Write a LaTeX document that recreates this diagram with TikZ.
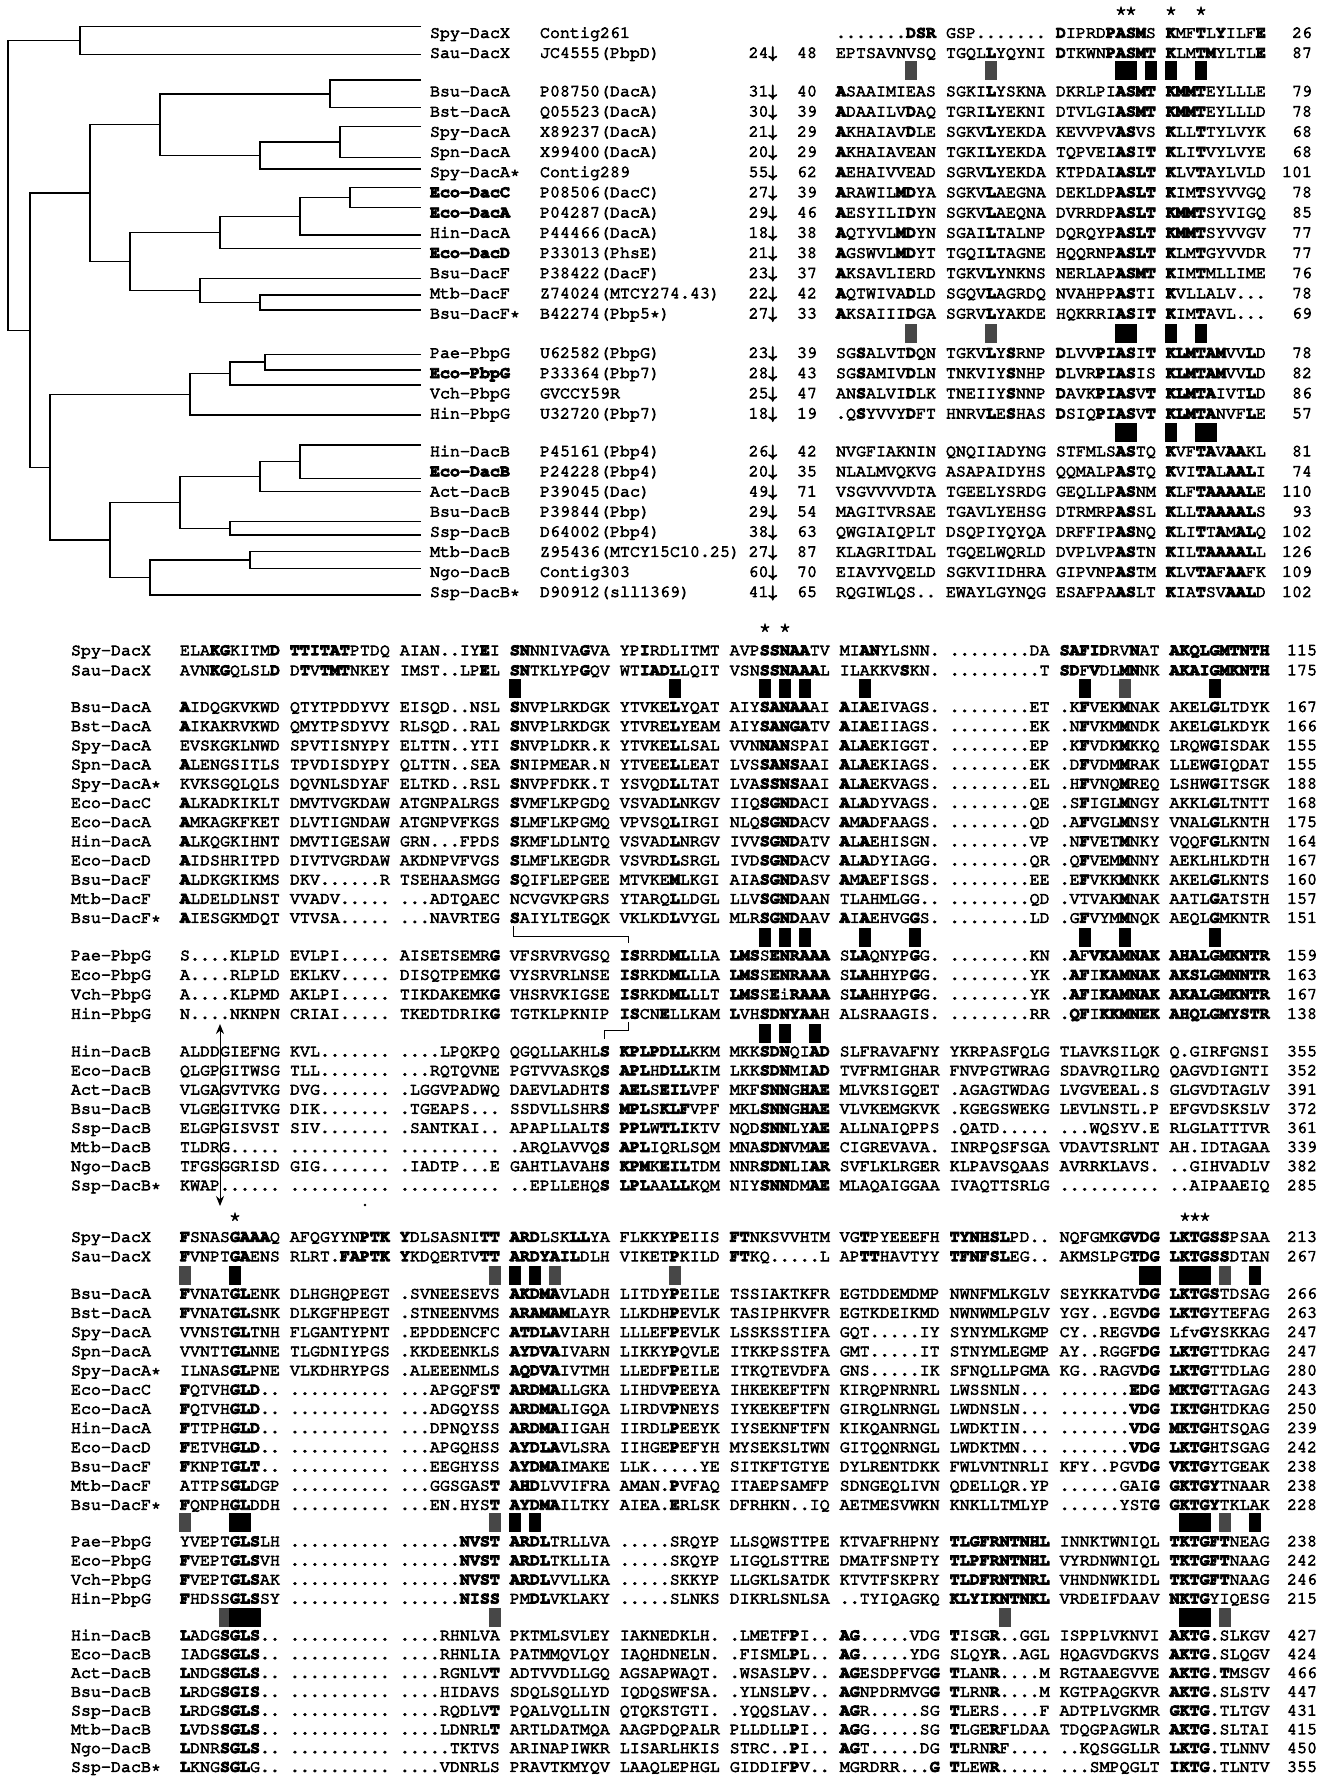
\documentclass[tikz,border=0pt]{standalone}
\usepackage[T1]{fontenc}
\usepackage{courier}
\usetikzlibrary{arrows.meta}
\newcommand\sq{\ttfamily\fontsize{8.33}{10}\selectfont\frenchspacing}
\newcommand\B[1]{\textbf{#1}}
\newcommand\trow[8]{%
 \node[anchor=base west] (tn#1) at (430,#2+4.5) {#3};
 \node[anchor=base west] (ta#1) at (540,#2+4.5) {#4};
 \node[anchor=base east] (tb#1) at (777,#2+4.5) {#5};
 \node[anchor=base west] (tc#1) at (797,#2+4.5) {#6};
 \node[anchor=base west] (ts#1) at (836,#2+4.5) {#7};
 \node[anchor=base east] (te#1) at (1312,#2+4.5) {#8};}
\newcommand\mrow[5]{%
 \node[anchor=base west] (mn#1) at (71,#2+4.5) {#3};
 \node[anchor=base west] (ms#1) at (180,#2+4.5) {#4};
 \node[anchor=base east] (me#1) at (1317,#2+4.5) {#5};}
\newcommand\sbar[5]{\fill[#5] (#1+#3*10-1,#2-9.5) rectangle (#1+#4*10+11,#2+9.5);}
\newcommand\cld[5]{\draw[tr] (#2,#4) -- (#1,#4) -- (#1,#5) -- (#3,#5);}
\begin{document}
\frenchspacing
\begin{tikzpicture}[x=0.5pt,y=-0.5pt,
  every node/.style={inner sep=0pt,outer sep=0pt,font=\sq},
  tr/.style={line width=0.7pt},
  stp/.style={fill=black!72},
  blk/.style={fill=black}]
\fill[white] (0,0) rectangle (1331,1776);
\useasboundingbox (0,0) rectangle (1331,1776);
\special{pdf:literal direct 2 Tr}

% ---------------- tree ----------------
\cld{80}{421}{421}{26.7}{54.3}
\cld{8}{80}{30}{40.5}{330.2}
\cld{30}{90}{50}{193.1}{467.2}
\cld{90}{160}{130}{124.8}{261.4}
\cld{160}{330}{260}{93.9}{155.6}
\cld{330}{421}{421}{80}{107.7}
\cld{260}{340}{421}{142.2}{169}
\cld{340}{421}{421}{126.7}{157.7}
\cld{130}{220}{200}{232.4}{290.4}
\cld{220}{300}{421}{216.4}{248.3}
\cld{300}{350}{421}{197.7}{235}
\cld{350}{421}{421}{187.7}{207.7}
\cld{200}{421}{260}{278.3}{302.5}
\cld{260}{421}{421}{295}{310}
\cld{50}{190}{110}{394.3}{540}
\cld{190}{230}{421}{373.6}{415}
\cld{230}{265}{421}{362}{385}
\cld{265}{421}{421}{354.3}{370}
\cld{110}{180}{150}{502.6}{577.5}
\cld{180}{260}{230}{476.7}{528.4}
\cld{260}{300}{421}{461.7}{491.7}
\cld{300}{421}{421}{445}{478.3}
\cld{230}{421}{421}{521.7}{535}
\cld{150}{250}{421}{560}{595}
\cld{250}{421}{421}{551.7}{568.3}

% ---------------- top block ----------------
\node (s1) at (1121,11) {$\star$};
\node (s2) at (1131,11) {$\star$};
\node (s3) at (1171,11) {$\star$};
\node (s4) at (1201,11) {$\star$};
\trow{1}{33.3}{Spy-DacX}{Contig261}{}{}{.......\B{DSR} GSP....... \B{D}IPRD\B{PASM}S \B{K}MF\B{T}L\B{Y}ILF\B{E}}{26}
\trow{2}{53.3}{Sau-DacX}{JC4555(PbpD)}{24$\downarrow$}{48}{EPTSAVNVSQ TGQL\B{L}YQYNI \B{D}TKWN\B{PASMT} \B{K}LM\B{TM}YLTL\B{E}}{87}
\trow{3}{91.7}{Bsu-DacA}{P08750(DacA)}{31$\downarrow$}{40}{\B{A}SAAIMIEAS SGKI\B{L}YSKNA DKRLPI\B{ASMT} \B{KMMT}EYLLLE}{79}
\trow{4}{111.9}{Bst-DacA}{Q05523(DacA)}{30$\downarrow$}{39}{\B{A}DAAILV\B{D}AQ TGRI\B{L}YEKNI DTVLGI\B{ASMT} \B{KMMT}EYLLLD}{78}
\trow{5}{132.1}{Spy-DacA}{X89237(DacA)}{21$\downarrow$}{29}{\B{A}KHAIAV\B{D}LE SGKV\B{L}YEKDA KEVVPV\B{AS}VS \B{K}LL\B{T}TYLVYK}{68}
\trow{6}{152.3}{Spn-DacA}{X99400(DacA)}{20$\downarrow$}{29}{\B{A}KHAIAVEAN TGKI\B{L}YEKDA TQPVEI\B{AS}I\B{T} \B{K}LI\B{T}VYLVYE}{68}
\trow{7}{172.5}{Spy-DacA*}{Contig289}{55$\downarrow$}{62}{\B{A}EHAIVVEAD SGRV\B{L}YEKDA KTPDAI\B{ASLT} \B{K}LV\B{T}AYLVLD}{101}
\trow{8}{192.7}{\B{Eco-DacC}}{P08506(DacC)}{27$\downarrow$}{39}{\B{A}RAWIL\B{MD}YA SGKV\B{L}AEGNA DEKLDP\B{ASLT} \B{K}IM\B{T}SYVVGQ}{78}
\trow{9}{212.9}{\B{Eco-DacA}}{P04287(DacA)}{29$\downarrow$}{46}{\B{A}ESYILI\B{D}YN SGKV\B{L}AEQNA DVRRDP\B{ASLT} \B{KMMT}SYVIGQ}{85}
\trow{10}{233.1}{Hin-DacA}{P44466(DacA)}{18$\downarrow$}{38}{\B{A}QTYVL\B{MD}YN SGAI\B{L}TALNP DQRQYP\B{ASLT} \B{KMMT}SYVVGV}{77}
\trow{11}{253.3}{\B{Eco-DacD}}{P33013(PhsE)}{21$\downarrow$}{38}{\B{A}GSWVL\B{MD}YT TGQI\B{L}TAGNE HQQRNP\B{ASLT} \B{K}LM\B{T}GYVVDR}{77}
\trow{12}{273.5}{Bsu-DacF}{P38422(DacF)}{23$\downarrow$}{37}{\B{A}KSAVLIERD TGKV\B{L}YNKNS NERLAP\B{ASMT} \B{K}IM\B{T}MLLIME}{76}
\trow{13}{293.7}{Mtb-DacF}{Z74024(MTCY274.43)}{22$\downarrow$}{42}{\B{A}QTWIVA\B{D}LD SGQV\B{L}AGRDQ NVAHPP\B{AS}TI \B{K}VLLALV...}{78}
\trow{14}{313.9}{Bsu-DacF*}{B42274(Pbp5*)}{27$\downarrow$}{33}{\B{A}KSAIII\B{D}GA SGRV\B{L}YAKDE HQKRRI\B{AS}I\B{T} \B{K}IM\B{T}AVL...}{69}
\trow{15}{353.3}{Pae-PbpG}{U62582(PbpG)}{23$\downarrow$}{39}{SG\B{S}ALVT\B{D}QN TGKV\B{L}Y\B{S}RNP \B{D}LVV\B{PIAS}I\B{T} \B{KLMTAM}VV\B{L}D}{78}
\trow{16}{373.5}{\B{Eco-PbpG}}{P33364(Pbp7)}{28$\downarrow$}{43}{SG\B{S}AMIV\B{D}LN TNKVIY\B{S}NHP \B{D}LVR\B{PIAS}IS \B{KLMTAM}VV\B{L}D}{82}
\trow{17}{393.7}{Vch-PbpG}{GVCCY59R}{25$\downarrow$}{47}{AN\B{S}ALVI\B{D}LK TNEIIY\B{S}NNP \B{D}AVK\B{PIAS}V\B{T} \B{KLMTA}IVT\B{L}D}{86}
\trow{18}{413.9}{Hin-PbpG}{U32720(Pbp7)}{18$\downarrow$}{19}{.Q\B{S}YVVY\B{D}FT HNRV\B{L}E\B{S}HAS \B{D}SIQ\B{PIAS}V\B{T} \B{KLMTA}NVF\B{L}E}{57}
\trow{19}{451.7}{Hin-DacB}{P45161(Pbp4)}{26$\downarrow$}{42}{NVGFIAKNIN QNQIIADYNG STFMLS\B{AS}TQ \B{K}VF\B{TA}V\B{AA}KL}{81}
\trow{20}{471.8}{\B{Eco-DacB}}{P24228(Pbp4)}{20$\downarrow$}{35}{NLALMVQKVG ASAPAIDYHS QQMALP\B{AS}TQ \B{K}VI\B{TA}L\B{AAL}I}{74}
\trow{21}{491.9}{Act-DacB}{P39045(Dac)}{49$\downarrow$}{71}{VSGVVVVDTA TGEELYSRDG GEQLLP\B{AS}NM \B{K}LF\B{TAAAAL}E}{110}
\trow{22}{512}{Bsu-DacB}{P39844(Pbp)}{29$\downarrow$}{54}{MAGITVRSAE TGAVLYEHSG DTRMRP\B{AS}SL \B{K}LL\B{TAAAAL}S}{93}
\trow{23}{532.1}{Ssp-DacB}{D64002(Pbp4)}{38$\downarrow$}{63}{QWGIAIQPLT DSQPIYQYQA DRFFIP\B{AS}NQ \B{K}LI\B{T}T\B{A}M\B{AL}Q}{102}
\trow{24}{552.2}{Mtb-DacB}{Z95436(MTCY15C10.25)}{27$\downarrow$}{87}{KLAGRITDAL TGQELWQRLD DVPLVP\B{AS}TN \B{K}IL\B{TAAAAL}L}{126}
\trow{25}{572.3}{Ngo-DacB}{Contig303}{60$\downarrow$}{70}{EIAVYVQELD SGKVIIDHRA GIPVNP\B{AS}TM \B{K}LV\B{TA}F\B{AA}FK}{109}
\trow{26}{592.4}{Ssp-DacB*}{D90912(sll1369)}{41$\downarrow$}{65}{RQGIWLQS.. EWAYLGYNQG ESAFPA\B{AS}LT \B{K}IA\B{T}SV\B{AAL}D}{102}
% top bars
\sbar{836}{71}{7}{7}{stp}\sbar{836}{71}{15}{15}{stp}\sbar{836}{71}{28}{29}{blk}
\sbar{836}{71}{31}{31}{blk}\sbar{836}{71}{33}{33}{blk}\sbar{836}{71}{36}{36}{blk}
\sbar{836}{333}{7}{7}{stp}\sbar{836}{333}{15}{15}{stp}\sbar{836}{333}{28}{29}{blk}
\sbar{836}{333}{33}{33}{blk}\sbar{836}{333}{36}{36}{blk}
\sbar{836}{432}{28}{29}{blk}\sbar{836}{432}{33}{33}{blk}\sbar{836}{432}{36}{37}{blk}

% ---------------- middle block ----------------
\node (s5) at (765,628) {$\star$};
\node (s6) at (785,628) {$\star$};
\mrow{m1}{650.7}{Spy-DacX}{ELA\B{KG}KITM\B{D} \B{TTITAT}PTDQ AIAN..IY\B{E}I \B{SN}NNIVA\B{G}VA YP\B{I}RDLITMT AVP\B{SSNAA}TV MI\B{AN}YLSNN. ........DA \B{SAFID}RV\B{N}AT \B{AKQLGMTNTH}}{115}
\mrow{m2}{670.7}{Sau-DacX}{AVN\B{KG}QLSL\B{D} D\B{T}V\B{TMT}NKEY IMST..LP\B{E}L \B{SN}TKLYP\B{G}QV WT\B{IADL}LQIT VSN\B{SSNAAA}L ILAKKV\B{S}KN. .........T \B{SD}F\B{V}DL\B{MN}NK \B{AKAIGMKNTH}}{175}
\mrow{m3}{707.3}{Bsu-DacA}{\B{A}IDQGKVKWD QTYTPDDYVY EISQD..NSL \B{S}NVPLRKDGK YTVKE\B{L}YQAT AIY\B{SANAA}AI \B{A}I\B{A}EIVAGS. ........ET .K\B{F}VEK\B{M}NAK AKEL\B{G}LTDYK}{167}
\mrow{m4}{726.5}{Bst-DacA}{\B{A}IKAKRVKWD QMYTPSDYVY RLSQD..RAL \B{S}NVPLRKDGK YTVRE\B{L}YEAM AIY\B{SANGA}TV \B{A}I\B{A}EIIAGS. ........EK .N\B{F}VKM\B{M}NDK AKEL\B{G}LKDYK}{166}
\mrow{m5}{745.7}{Spy-DacA}{EVSKGKLNWD SPVTISNYPY ELTTN..YTI \B{S}NVPLDKR.K YTVKE\B{L}LSAL VVN\B{NAN}SPAI \B{A}L\B{A}EKIGGT. ........EP .K\B{F}VDK\B{M}KKQ LRQW\B{G}ISDAK}{155}
\mrow{m6}{764.8}{Spn-DacA}{\B{A}LENGSITLS TPVDISDYPY QLTTN..SEA \B{S}NIPMEAR.N YTVEE\B{L}LEAT LVS\B{SANS}AAI \B{A}L\B{A}EKIAGS. ........EK .D\B{F}VDM\B{M}RAK LLEW\B{G}IQDAT}{155}
\mrow{m7}{784}{Spy-DacA*}{KVKSGQLQLS DQVNLSDYAF ELTKD..RSL \B{S}NVPFDKK.T YSVQD\B{L}LTAT LVA\B{SSNS}AAI \B{A}L\B{A}EKVAGS. ........EL .H\B{F}VNQ\B{M}REQ LSHW\B{G}ITSGK}{188}
\mrow{m8}{803.2}{Eco-DacC}{\B{A}LKADKIKLT DMVTVGKDAW ATGNPALRGS \B{S}VMFLKPGDQ VSVAD\B{L}NKGV IIQ\B{SGND}ACI \B{A}L\B{A}DYVAGS. ........QE .S\B{F}IGL\B{M}NGY AKKL\B{G}LTNTT}{168}
\mrow{m9}{822.4}{Eco-DacA}{\B{A}MKAGKFKET DLVTIGNDAW ATGNPVFKGS \B{S}LMFLKPGMQ VPVSQ\B{L}IRGI NLQ\B{SGND}ACV \B{A}M\B{A}DFAAGS. ........QD .A\B{F}VGL\B{M}NSY VNAL\B{G}LKNTH}{175}
\mrow{m10}{841.6}{Hin-DacA}{\B{A}LKQGKIHNT DMVTIGESAW GRN...FPDS \B{S}KMFLDLNTQ VSVAD\B{L}NRGV IVV\B{SGND}ATV \B{A}L\B{A}EHISGN. ........VP .N\B{F}VET\B{M}NKY VQQF\B{G}LKNTN}{164}
\mrow{m11}{860.7}{Eco-DacD}{\B{A}IDSHRITPD DIVTVGRDAW AKDNPVFVGS \B{S}LMFLKEGDR VSVRD\B{L}SRGL IVD\B{SGND}ACV \B{A}L\B{A}DYIAGG. ........QR .Q\B{F}VEM\B{M}NNY AEKLHLKDTH}{167}
\mrow{m12}{879.9}{Bsu-DacF}{\B{A}LDKGKIKMS DKV......R TSEHAASMGG \B{S}QIFLEPGEE MTVKE\B{M}LKGI AIA\B{SGND}ASV \B{A}M\B{A}EFISGS. ........EE .E\B{F}VKK\B{M}NKK AKEL\B{G}LKNTS}{160}
\mrow{m13}{899.1}{Mtb-DacF}{\B{A}LDELDLNST VVADV..... ...ADTQAEC NCVGVKPGRS YTARQ\B{L}LDGL LLV\B{SGND}AAN TLAHMLGG.. ........QD .VTVAK\B{M}NAK AATL\B{G}ATSTH}{157}
\mrow{m14}{918.3}{Bsu-DacF*}{\B{A}IESGKMDQT VTVSA..... ...NAVRTEG \B{S}AIYLTEGQK VKLKD\B{L}VYGL MLR\B{SGND}AAV \B{A}I\B{A}EHVG\B{G}S. ........LD .G\B{F}VYM\B{M}NQK AEQL\B{G}MKNTR}{151}
\mrow{m15}{955.7}{Pae-PbpG}{S....KLPLD EVLPI..... AISETSEMR\B{G} VFSRVRVGSQ \B{IS}RRD\B{ML}LLA \B{LMS}S\B{ENRAAA} S\B{LA}QNYP\B{G}G. ........KN .\B{A}F\B{VKAMNAK} \B{AHALGMKNTR}}{159}
\mrow{m16}{975.2}{Eco-PbpG}{A....RLPLD EKLKV..... DISQTPEMK\B{G} VYSRVRLNSE \B{IS}RKD\B{ML}LLA \B{LMS}S\B{ENRAAA} S\B{LA}HHYP\B{G}G. ........YK .\B{AF}I\B{KAMNAK} \B{AKSLGMNNTR}}{163}
\mrow{m17}{994.7}{Vch-PbpG}{A....KLPMD AKLPI..... TIKDAKEMK\B{G} VHSRVKIGSE \B{IS}RKD\B{ML}LLT \B{LMS}S\B{E}i\B{RAAA} S\B{LA}HHYP\B{G}G. ........YK .\B{AF}I\B{KAMNAK} \B{AKALGMKNTR}}{167}
\mrow{m18}{1014.2}{Hin-PbpG}{N....NKNPN CRIAI..... TKEDTDRIK\B{G} TGTKLPKNIP \B{IS}CN\B{E}LLKAM \B{L}VH\B{SDNYAA}H ALSRAAGIS. ........RR .\B{QF}I\B{KKMNEK} \B{AHQLGMYSTR}}{138}
\mrow{m19}{1051.7}{Hin-DacB}{ALDDGIEFNG KVL....... ....LPQKPQ QGQLLAKHL\B{S} \B{KPLPDLL}KKM MKK\B{SDN}QI\B{AD} SLFRAVAFNY YKRPASFQLG TLAVKSILQK Q.GIRFGNSI}{355}
\mrow{m20}{1070.8}{Eco-DacB}{QLGPGITWSG TLL....... ...RQTQVNE PGTVVASKQ\B{S} \B{APL}H\B{DLL}KIM LKK\B{SDN}MI\B{AD} TVFRMIGHAR FNVPGTWRAG SDAVRQILRQ QAGVDIGNTI}{352}
\mrow{m21}{1090}{Act-DacB}{VLGAGVTVKG DVG....... .LGGVPADWQ DAEVLADHT\B{S} \B{AEL}S\B{EIL}VPF MKF\B{SNN}G\B{HAE} MLVKSIGQET .AGAGTWDAG LVGVEEAL.S GLGVDTAGLV}{391}
\mrow{m22}{1109.1}{Bsu-DacB}{VLGEGITVKG DIK....... .TGEAPS... SSDVLLSHR\B{S} \B{MPL}S\B{KLF}VPF MKL\B{SNN}G\B{HAE} VLVKEMGKVK .KGEGSWEKG LEVLNSTL.P EFGVDSKSLV}{372}
\mrow{m23}{1128.3}{Ssp-DacB}{ELGPGISVST SIV....... .SANTKAI.. APAPLLALT\B{S} \B{PPL}W\B{TLI}KTV NQD\B{SNN}LY\B{AE} ALLNAIQPPS .QATD..... ...WQSYV.E RLGLATTTVR}{361}
\mrow{m24}{1147.4}{Mtb-DacB}{TLDRG..... .......... .......... .ARQLAVVQ\B{S} \B{APL}IQRLSQM MNA\B{SDN}VM\B{AE} CIGREVAVA. INRPQSFSGA VDAVTSRLNT AH.IDTAGAA}{339}
\mrow{m25}{1166.5}{Ngo-DacB}{TFGSGGRISD GIG....... .IADTP...E GAHTLAVAH\B{S} \B{KPM}K\B{EIL}TDM NNR\B{SDN}LI\B{AR} SVFLKLRGER KLPAVSQAAS AVRRKLAVS. ..GIHVADLV}{382}
\mrow{m26}{1185.7}{Ssp-DacB*}{KWAP...... .......... .......... ..EPLLEHQ\B{S} \B{LPL}AA\B{LL}KQM NIY\B{SNN}DM\B{AE} MLAQAIGGAA IVAQTTSRLG .......... ..AIPAAEIQ}{285}
% middle bars
\sbar{180}{688}{33}{33}{blk}\sbar{180}{688}{49}{49}{blk}\sbar{180}{688}{58}{58}{blk}
\sbar{180}{688}{60}{60}{blk}\sbar{180}{688}{62}{62}{blk}\sbar{180}{688}{68}{68}{blk}
\sbar{180}{688}{90}{90}{blk}\sbar{180}{688}{94}{94}{stp}\sbar{180}{688}{103}{103}{blk}
\sbar{180}{937}{58}{58}{blk}\sbar{180}{937}{60}{60}{blk}\sbar{180}{937}{62}{62}{blk}
\sbar{180}{937}{68}{68}{blk}\sbar{180}{937}{73}{73}{blk}\sbar{180}{937}{90}{90}{blk}
\sbar{180}{937}{94}{94}{blk}\sbar{180}{937}{103}{103}{blk}
\sbar{180}{1033}{58}{58}{blk}\sbar{180}{1033}{60}{60}{blk}\sbar{180}{1033}{63}{63}{blk}
% brackets and arrow
\coordinate (b1a) at (513,926); \coordinate (b1b) at (628,943);
\draw[line width=0.5pt] (b1a) -- (513,936) -- (628,936) -- (b1b);
\coordinate (b2a) at (628,1022); \coordinate (b2b) at (604,1039);
\draw[line width=0.5pt] (b2a) -- (628,1030) -- (604,1030) -- (b2b);
\coordinate (au) at (220,1024); \coordinate (ad) at (220,1206);
\draw[line width=0.5pt,{Stealth[length=5pt,width=4pt]}-{Stealth[length=5pt,width=4pt]}] (au) -- (ad);
\fill (365,1205) circle (1.3);

% ---------------- bottom block ----------------
\node (s7) at (235,1217) {$\star$};
\node (s8) at (1185,1217) {$\star$};
\node (s9) at (1195,1217) {$\star$};
\node (s10) at (1205,1217) {$\star$};
\mrow{b1}{1237.3}{Spy-DacX}{\B{F}SNAS\B{GAAA}Q AFQGYYN\B{PTK} \B{Y}DLSASNI\B{TT} \B{ARD}LSK\B{LL}YA FLKKY\B{P}EIIS \B{FT}NKSVVHTM VG\B{T}PYEEEFH \B{TYNHSL}PD.. NQFGMK\B{GVDG} \B{LKTGSS}PSAA}{213}
\mrow{b2}{1256.7}{Sau-DacX}{\B{F}VNPT\B{GA}ENS RLRT.\B{FAPTK} \B{Y}KDQERTV\B{TT} \B{ARDYAIL}DLH VIKET\B{P}KILD \B{FT}KQ.....L AP\B{TT}HAVTYY \B{TFNFSL}EG.. AKMSLPG\B{TDG} \B{LKTGSS}DTAN}{267}
\mrow{b3}{1294}{Bsu-DacA}{\B{F}VNAT\B{GL}ENK DLHGHQPEGT .SVNEESEVS \B{AKDMA}VLADH LITDY\B{P}EILE TSSIAKTKFR EGTDDEMDMP NWNFMLKGLV SEYKKATV\B{DG} \B{LKTGS}TDSAG}{266}
\mrow{b4}{1313.2}{Bst-DacA}{\B{F}VNAT\B{GL}SNK DLKGFHPEGT .STNEENVMS \B{ARAMAM}LAYR LLKDH\B{P}EVLK TASIPHKVFR EGTKDEIKMD NWNWMLPGLV YGY..EGV\B{DG} \B{LKTG}YTEFAG}{263}
\mrow{b5}{1332.4}{Spy-DacA}{VVNST\B{GL}TNH FLGANTYPNT .EPDDENCFC \B{ATDLA}VIARH LLLEF\B{P}EVLK LSSKSSTIFA GQT.....IY SYNYMLKGMP CY..REGV\B{DG} Lfv\B{G}YSKKAG}{247}
\mrow{b6}{1351.6}{Spn-DacA}{VVNTT\B{GL}NNE TLGDNIYPGS .KKDEENKLS \B{AYDVA}IVARN LIKKY\B{P}QVLE ITKKPSSTFA GMT.....IT STNYMLEGMP AY..RGGF\B{DG} \B{LKTG}TTDKAG}{247}
\mrow{b7}{1370.8}{Spy-DacA*}{ILNAS\B{GL}PNE VLKDHRYPGS .ALEEENMLS \B{AQDVA}IVTMH LLEDF\B{P}EILE ITKQTEVDFA GNS.....IK SFNQLLPGMA KG..RAGV\B{DG} \B{LKTG}TTDLAG}{280}
\mrow{b8}{1390}{Eco-DacC}{\B{F}QTVH\B{GLD}.. .......... ...APGQFS\B{T} \B{ARDMA}LLGKA LIHDV\B{P}EEYA IHKEKEFTFN KIRQPNRNRL LWSSNLN... .......\B{EDG} \B{MKTG}TTAGAG}{243}
\mrow{b9}{1409.2}{Eco-DacA}{\B{F}QTVH\B{GLD}.. .......... ...ADGQYSS \B{ARDMA}LIGQA LIRDV\B{P}NEYS IYKEKEFTFN GIRQLNRNGL LWDNSLN... .......\B{VDG} \B{IKTG}HTDKAG}{250}
\mrow{b10}{1428.4}{Hin-DacA}{\B{F}TTPH\B{GLD}.. .......... ...DPNQYSS \B{ARDMA}IIGAH IIRDL\B{P}EEYK IYSEKNFTFN KIKQANRNGL LWDKTIN... .......\B{VDG} \B{MKTG}HTSQAG}{239}
\mrow{b11}{1447.6}{Eco-DacD}{\B{F}ETVH\B{GLD}.. .......... ...APGQHSS \B{AYDLA}VLSRA IIHGE\B{P}EFYH MYSEKSLTWN GITQQNRNGL LWDKTMN... .......\B{VDG} \B{LKTG}HTSGAG}{242}
\mrow{b12}{1466.8}{Bsu-DacF}{\B{F}KNPT\B{GLT}.. .......... ...EEGHYSS \B{AYDMA}IMAKE LLK.....YE SITKFTGTYE DYLRENTDKK FWLVNTNRLI KFY..PGV\B{DG} \B{VKTG}YTGEAK}{238}
\mrow{b13}{1486}{Mtb-DacF}{ATTPS\B{GL}DGP .......... ...GGSGAS\B{T} \B{AHD}LVVIFRA AMAN.\B{P}VFAQ ITAEPSAMFP SDNGEQLIVN QDELLQR.YP ......GAI\B{G} \B{GKTGY}TNAAR}{238}
\mrow{b14}{1505.2}{Bsu-DacF*}{\B{F}QNPH\B{GL}DDH .......... ...EN.HYS\B{T} \B{AYDMA}ILTKY AIEA.\B{E}RLSK DFRHKN..IQ AETMESVWKN KNKLLTMLYP ......YST\B{G} \B{GKTGY}TKLAK}{228}
\mrow{b15}{1541.7}{Pae-PbpG}{YVEPT\B{GLS}LH .......... ......\B{NVST} \B{ARDL}TRLLVA .....SRQYP LLSQWSTTPE KTVAFRHPNY \B{TLGFRNTNHL} INNKTWNIQL \B{TKTGFT}NEAG}{238}
\mrow{b16}{1560.8}{Eco-PbpG}{\B{F}VEPT\B{GLS}VH .......... ......\B{NVST} \B{ARDL}TKLLIA .....SKQYP LIGQLSTTRE DMATFSNPTY \B{TLPFRNTNHL} VYRDNWNIQL \B{TKTGFT}NAAG}{242}
\mrow{b17}{1579.9}{Vch-PbpG}{\B{F}VEPT\B{GLS}AK .......... ......\B{NVST} \B{ARDL}VVLLKA .....SKKYP LLGKLSATDK KTVTFSKPRY \B{TLDFRNTNRL} VHNDNWKIDL \B{TKTGFT}NAAG}{246}
\mrow{b18}{1599}{Hin-PbpG}{\B{F}HDSS\B{GLS}SY .......... ......\B{NISS} PM\B{DL}VKLAKY .....SLNKS DIKRLSNLSA ..TYIQAGKQ \B{KLYIKNTNKL} VRDEIFDAAV \B{NKTG}YIQESG}{215}
\mrow{b19}{1635.7}{Hin-DacB}{\B{L}ADG\B{SGLS}.. .......... ....RHNLVA PKTMLSVLEY IAKNEDKLH. .LMETF\B{P}I.. \B{AG}.....VDG \B{T}ISG\B{R}..GGL ISPPLVKNVI \B{AKTG}.SLKGV}{427}
\mrow{b20}{1654.5}{Eco-DacB}{IADG\B{SGLS}.. .......... ....RHNLIA PATMMQVLQY IAQHDNELN. .FISML\B{P}L.. \B{AG}.....YDG SLQY\B{R}..AGL HQAGVDGKVS \B{AKTG}.SLQGV}{424}
\mrow{b21}{1673.3}{Act-DacB}{\B{L}NDG\B{SGLS}.. .......... ....RGNLV\B{T} ADTVVDLLGQ AGSAPWAQT. .WSASL\B{P}V.. \B{AG}ESDPFVG\B{G} \B{T}LAN\B{R}....M RGTAAEGVVE \B{AKTG}.\B{T}MSGV}{466}
\mrow{b22}{1692.1}{Bsu-DacB}{\B{L}RDG\B{SGIS}.. .......... ....HIDAVS SDQLSQLLYD IQDQSWFSA. .YLNSL\B{P}V.. \B{AG}NPDRMVG\B{G} \B{T}LRN\B{R}....M KGTPAQGKVR \B{AKTG}.SLSTV}{447}
\mrow{b23}{1710.9}{Ssp-DacB}{\B{L}RDG\B{SGLS}.. .......... ....RQDLV\B{T} PQALVQLLIN QTQKSTGTI. .YQQSLAV.. \B{AG}R.....SG \B{T}LERS....F ADTPLVGKMR \B{GKTG}.TLTGV}{431}
\mrow{b24}{1729.7}{Mtb-DacB}{\B{L}VDS\B{SGLS}.. .......... ....LDNRL\B{T} ARTLDATMQA AAGPDQPALR PLLDLL\B{P}I.. \B{AG}G.....SG \B{T}LGE\B{R}FLDAA TDQGPAGWLR \B{AKTG}.SLTAI}{415}
\mrow{b25}{1748.5}{Ngo-DacB}{\B{L}DNR\B{SGLS}.. .......... .....TKTVS ARINAPIWKR LISARLHKIS STRC..\B{P}I.. \B{AG}T.....DG \B{T}LRN\B{R}F.... ..KQSGGLLR \B{LKTG}.TLNNV}{450}
\mrow{b26}{1767.3}{Ssp-DacB*}{\B{L}KNG\B{SGL}G.. .......... ....VDNRLS PRAVTKMYQV LAAQLEPHGL GIDDIF\B{P}V.. MGRDRR...\B{G} \B{T}LEW\B{R}..... ...SMPQGLT \B{IKTG}.TLNTV}{355}
% bottom bars
\sbar{180}{1275}{0}{0}{stp}\sbar{180}{1275}{5}{5}{blk}\sbar{180}{1275}{31}{31}{stp}
\sbar{180}{1275}{33}{33}{blk}\sbar{180}{1275}{35}{35}{blk}\sbar{180}{1275}{37}{37}{stp}
\sbar{180}{1275}{49}{49}{stp}\sbar{180}{1275}{96}{97}{blk}\sbar{180}{1275}{100}{102}{blk}
\sbar{180}{1275}{104}{104}{stp}\sbar{180}{1275}{107}{107}{blk}
\sbar{180}{1522}{0}{0}{stp}\sbar{180}{1522}{5}{6}{blk}\sbar{180}{1522}{31}{31}{stp}
\sbar{180}{1522}{33}{33}{blk}\sbar{180}{1522}{35}{35}{blk}\sbar{180}{1522}{100}{102}{blk}
\sbar{180}{1522}{104}{104}{stp}\sbar{180}{1522}{107}{107}{blk}
\sbar{180}{1617}{4}{4}{stp}\sbar{180}{1617}{5}{7}{blk}\sbar{180}{1617}{31}{31}{stp}
\sbar{180}{1617}{82}{82}{stp}\sbar{180}{1617}{100}{102}{blk}\sbar{180}{1617}{104}{104}{stp}
\end{tikzpicture}
\end{document}
